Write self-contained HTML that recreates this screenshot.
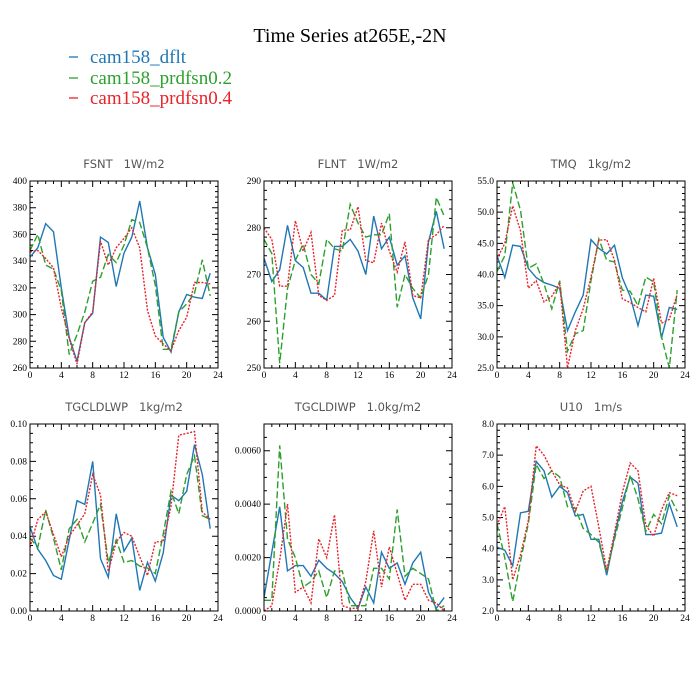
<!DOCTYPE html>
<html><head><meta charset="utf-8">
<style>
body{margin:0;background:#fff;}
svg{display:block;}
.tl{font-family:"Liberation Serif",serif;font-size:9.5px;fill:#000;}
.pt{font-family:"DejaVu Sans","Liberation Sans",sans-serif;font-size:11.5px;fill:#555;white-space:pre;}
</style></head><body>
<svg id="c" width="700" height="700" viewBox="0 0 700 700">
<text x="350" y="42" text-anchor="middle" font-family="Liberation Serif,serif" font-size="20">Time Series at265E,-2N</text>
<g>
<line x1="69" y1="57" x2="78" y2="57" stroke="#1f77b4" stroke-width="1.3"/>
<text x="90" y="63" font-family="Liberation Serif,serif" font-size="19" fill="#1f77b4">cam158_dflt</text>
<line x1="69" y1="78" x2="78" y2="78" stroke="#2ca02c" stroke-width="1.3"/>
<text x="90" y="84" font-family="Liberation Serif,serif" font-size="19" fill="#2ca02c">cam158_prdfsn0.2</text>
<line x1="69" y1="98" x2="78" y2="98" stroke="#e8232a" stroke-width="1.3"/>
<text x="90" y="104" font-family="Liberation Serif,serif" font-size="19" fill="#e8232a">cam158_prdfsn0.4</text>
</g>
</svg>
<script>
const hours=[0,1,2,3,4,5,6,7,8,9,10,11,12,13,14,15,16,17,18,19,20,21,22,23];
const xTicks=[0,4,8,12,16,20,24];
const fsntDflt=[343,350,368,362,320,283,265,294,301,358,354,321,346,358,385,350,330,283,272,302,315,313,312,331];
const fsntP2=[348,360,337,334,318,270,285,302,325,328,345,339,352,371,369,350,322,274,274,302,308,316,341,314];
const fsntP4=[347,348,342,335,305,282,263,294,302,355,337,350,357,365,350,303,284,278,273,288,298,324,324,323];
const flntDflt=[273.5,268.5,271,280.5,273,271.5,266,266,264.5,276,276,277.5,275,270,282.5,275.5,278,272,274,265,260.5,277,283.5,275.5];
const flntP2=[277.5,274.5,251,267,273,276.5,270,268,277.5,275.5,275,285,281,278,278.5,278.5,283,263,270,267,265,270,286.5,282.5];
const flntP4=[280,277.5,267.5,267.5,281.5,275,279,265.5,264.5,265.5,279.5,279.5,284.5,273,272.5,281,275,270.5,277,265.5,265,277.5,278.5,280.5];
const tmqDflt=[43,39.5,44.7,44.5,41,39.5,38.7,38.3,37.8,31,34,36.7,45.6,44.2,43.3,44.7,39.5,36.5,31.8,36.7,36.5,29.8,34.7,34.4];
const tmqP2=[40.5,43,54.7,50.3,41,41.7,38.5,34.5,39,27.7,30.5,31,39,45.7,42.3,42,37.5,37.3,35,39.6,38.8,30,25,37.5];
const tmqP4=[42.5,45,51,47,37.8,39,35.6,36.5,38.6,25,31,34.5,39.6,45.5,45.6,42.3,36.1,35.5,34.7,34,39.4,32.2,32.8,36.8];
const lwpDflt=[.045,.033,.027,.019,.017,.038,.059,.057,.080,.028,.018,.052,.032,.039,.011,.026,.016,.031,.062,.059,.064,.089,.073,.044];
const lwpP2=[.039,.034,.054,.039,.022,.044,.049,.037,.047,.057,.026,.038,.026,.027,.024,.023,.020,.041,.064,.052,.073,.083,.051,.049];
const lwpP4=[.034,.049,.053,.041,.029,.040,.046,.052,.073,.062,.021,.037,.042,.040,.029,.019,.037,.037,.056,.094,.095,.096,.053,.049];
const iwpDflt=[.0005,.0022,.0039,.0015,.0017,.0017,.0013,.0019,.0016,.0014,.0011,.0005,.0001,.0009,.0003,.0022,.0016,.0018,.0010,.0018,.0022,.0007,.0001,.0005];
const iwpP2=[.0004,.0004,.0062,.0027,.0020,.0009,.0011,.0015,.0005,.0015,.0015,.0002,.0002,.0002,.0016,.0016,.0012,.0038,.0013,.0016,.0014,.0012,.0000,.0002];
const iwpP4=[.0000,.0002,.0019,.0040,.0007,.0009,.0003,.0027,.0020,.0036,.0002,.0001,.0001,.0011,.0030,.0009,.0024,.0014,.0004,.0010,.0010,.0004,.0003,.0000];
const u10Dflt=[4.05,3.95,3.45,5.15,5.2,6.8,6.5,5.65,6.0,5.8,5.05,5.1,4.3,4.3,3.15,4.4,5.5,6.3,6.1,4.45,4.45,4.5,5.45,4.7];
const u10P2=[4.8,3.7,2.3,3.6,4.8,6.7,6.25,6.5,6.3,5.35,5.3,4.65,4.45,4.2,3.25,4.3,5.3,6.35,5.6,4.55,5.1,4.8,5.7,5.2];
const u10P4=[4.75,5.35,3.0,3.8,4.9,7.3,7.0,6.5,6.05,5.95,5.2,5.85,6.0,4.7,3.3,4.5,5.8,6.75,6.5,4.75,4.4,5.25,5.8,5.7];
const fsntTicks=["260","280","300","320","340","360","380","400"];
const flntTicks=["250","260","270","280","290"];
const tmqTicks=["25.0","30.0","35.0","40.0","45.0","50.0","55.0"];
const lwpTicks=["0.00","0.02","0.04","0.06","0.08","0.10"];
const iwpTicks=["0.0000","0.0020","0.0040","0.0060"];
const u10Ticks=["2.0","3.0","4.0","5.0","6.0","7.0","8.0"];

const NS="http://www.w3.org/2000/svg";
const svg=document.getElementById('c');
function mk(tag,attrs,parent){const e=document.createElementNS(NS,tag);for(const k in attrs)e.setAttribute(k,attrs[k]);parent.appendChild(e);return e;}
const panels=[
 {name:'fsnt',title:'FSNT   1W/m2',x0:30,y0:181,ymin:260,ymax:400,ticks:fsntTicks,minor:5,s:[fsntDflt,fsntP2,fsntP4]},
 {name:'flnt',title:'FLNT   1W/m2',x0:264,y0:181,ymin:250,ymax:290,ticks:flntTicks,minor:5,s:[flntDflt,flntP2,flntP4]},
 {name:'tmq',title:'TMQ   1kg/m2',x0:497,y0:181,ymin:25,ymax:55,ticks:tmqTicks,minor:5,s:[tmqDflt,tmqP2,tmqP4]},
 {name:'tgcldlwp',title:'TGCLDLWP   1kg/m2',x0:30,y0:424,ymin:0,ymax:0.1,ticks:lwpTicks,minor:4,s:[lwpDflt,lwpP2,lwpP4]},
 {name:'tgcldiwp',title:'TGCLDIWP   1.0kg/m2',x0:264,y0:424,ymin:0,ymax:0.007,ticks:iwpTicks,minor:4,s:[iwpDflt,iwpP2,iwpP4]},
 {name:'u10',title:'U10   1m/s',x0:497,y0:424,ymin:2,ymax:8,ticks:u10Ticks,minor:5,s:[u10Dflt,u10P2,u10P4]}
];
const W=188,H=187;
const styles=[{c:'#1f77b4',d:'',n:'dflt'},{c:'#2ca02c',d:'7,3',n:'prdfsn02'},{c:'#e8232a',d:'2,1.5',n:'prdfsn04'}];
panels.forEach(p=>{
 const g=mk('g',{},svg);
 
 
 const xs=v=>p.x0+v/24*W;
 const ys=v=>p.y0+H-(v-p.ymin)/(p.ymax-p.ymin)*H;
 const t=mk('text',{x:p.x0+W/2,y:p.y0-13,'text-anchor':'middle',class:'pt'},g);
 
 
 t.textContent=p.title;
 const tk=[];
 for(let i=0;i<=24;i++){const L=i%4==0?6:3;const x=xs(i);
  tk.push(`M${x},${p.y0+H}v${-L}M${x},${p.y0}v${L}`);}
 const step=(parseFloat(p.ticks[1])-parseFloat(p.ticks[0]));
 for(let v=p.ymin, k=0; v<=p.ymax+1e-9; k++, v=p.ymin+k*step/p.minor){
  const y=ys(v);const L=(k%p.minor==0)?6:3;
  tk.push(`M${p.x0},${y}h${L}M${p.x0+W},${y}h${-L}`);}
 const tp=mk('path',{d:tk.join(''),stroke:'#000','stroke-width':1,fill:'none'},g);
 
 
 xTicks.forEach(v=>{const e=mk('text',{x:xs(v),y:p.y0+H+10,'text-anchor':'middle',class:'tl'},g);
  
  
  e.textContent=String(v);});
 p.ticks.forEach(s=>{const e=mk('text',{x:p.x0-3,y:ys(parseFloat(s))+3,'text-anchor':'end',class:'tl'},g);
  
  
  e.textContent=s;});
 const clip=mk('clipPath',{id:'cl'+p.name},g);
 mk('rect',{x:p.x0,y:p.y0,width:W,height:H},clip);
 p.s.forEach((arr,si)=>{
  const d=arr.map((v,i)=>(i?'L':'M')+xs(hours[i]).toFixed(1)+','+ys(v).toFixed(1)).join('');
  const attrs={d:d,fill:'none',stroke:styles[si].c,'stroke-width':1.4,'clip-path':`url(#cl${p.name})`};
  if(styles[si].d)attrs['stroke-dasharray']=styles[si].d;
  const l=mk('path',attrs,g);
  
  
 });
 const fr=mk('rect',{x:p.x0,y:p.y0,width:W,height:H,fill:'none',stroke:'#000','stroke-width':1},g);
 
 
});
</script>
</body></html>
